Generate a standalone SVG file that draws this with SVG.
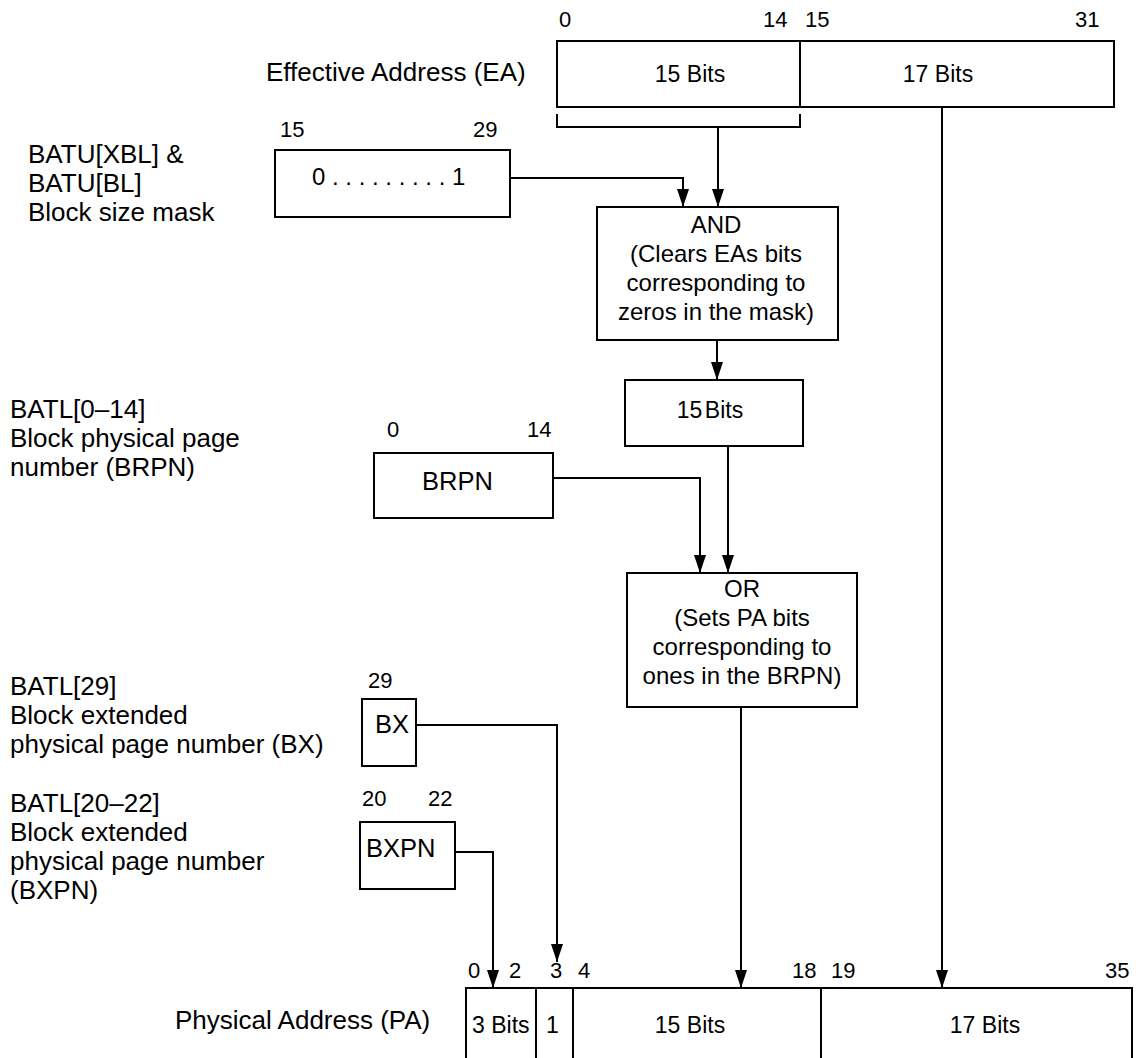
<svg xmlns="http://www.w3.org/2000/svg" width="1138" height="1058" viewBox="0 0 1138 1058">
<style>
text{font-family:"Liberation Sans",Arial,sans-serif;font-size:26px;fill:#000}
.b{font-size:23px}
.n{font-size:22px}
.o{font-size:24px}
.k{font-size:25.5px}
.m{text-anchor:middle}
.box{fill:#fff;stroke:#000;stroke-width:2}
.ln{fill:none;stroke:#000;stroke-width:2}
</style>
<defs>
<marker id="ah" markerUnits="userSpaceOnUse" markerWidth="12" markerHeight="19" refX="6" refY="18" orient="0" viewBox="0 0 12 19">
<path d="M0,0 L12,0 L6,18 z" fill="#000"/>
</marker>
</defs>
<g id="labels">
<text x="266" y="81">Effective Address (EA)</text>
<text x="28" y="163">BATU[XBL] &amp;</text>
<text x="28" y="192">BATU[BL]</text>
<text x="28" y="221">Block size mask</text>
<text x="10" y="418">BATL[0–14]</text>
<text x="10" y="447">Block physical page</text>
<text x="10" y="476">number (BRPN)</text>
<text x="10" y="695">BATL[29]</text>
<text x="10" y="724">Block extended</text>
<text x="10" y="753">physical page number (BX)</text>
<text x="10" y="812">BATL[20–22]</text>
<text x="10" y="841">Block extended</text>
<text x="10" y="870">physical page number</text>
<text x="10" y="899">(BXPN)</text>
<text x="175" y="1029">Physical Address (PA)</text>
</g>
<g id="ea">
<rect class="box" x="557" y="41" width="557" height="66"/>
<line class="ln" x1="800" y1="41" x2="800" y2="108"/>
<text class="n" x="559" y="27">0</text>
<text class="n" x="763" y="27">14</text>
<text class="n" x="805" y="27">15</text>
<text class="n" x="1075" y="27">31</text>
<text class="b m" x="690" y="82">15 Bits</text>
<text class="b m" x="938" y="82">17 Bits</text>
</g>
<g id="mask">
<rect class="box" x="275" y="150" width="235" height="67"/>
<text class="n" x="280" y="137">15</text>
<text class="n" x="473" y="137">29</text>
<text class="o" x="312" y="185">0 . . . . . . . . . 1</text>
</g>
<g id="and">
<rect class="box" x="597" y="207" width="241" height="133"/>
<text class="o m" x="716" y="233">AND</text>
<text class="o m" x="716" y="262">(Clears EAs bits</text>
<text class="o m" x="716" y="291">corresponding to</text>
<text class="o m" x="716" y="320">zeros in the mask)</text>
</g>
<g id="bits15">
<rect class="box" x="625" y="380" width="178" height="66"/>
<text class="b m" x="710" y="418" word-spacing="-4">15 Bits</text>
</g>
<g id="brpn">
<rect class="box" x="374" y="453" width="179" height="65"/>
<text class="n" x="387" y="437">0</text>
<text class="n" x="527" y="437">14</text>
<text class="k" x="422" y="490">BRPN</text>
</g>
<g id="or">
<rect class="box" x="627" y="573" width="230" height="134"/>
<text class="o m" x="742" y="597">OR</text>
<text class="o m" x="742" y="626">(Sets PA bits</text>
<text class="o m" x="742" y="655">corresponding to</text>
<text class="o m" x="742" y="684">ones in the BRPN)</text>
</g>
<g id="bx">
<rect class="box" x="362" y="699" width="54" height="67"/>
<text class="n" x="368" y="688">29</text>
<text class="k" x="375" y="733">BX</text>
</g>
<g id="bxpn">
<rect class="box" x="360" y="822" width="95" height="67"/>
<text class="n" x="362" y="806">20</text>
<text class="n" x="428" y="806">22</text>
<text class="k" x="366" y="857">BXPN</text>
</g>
<g id="pa">
<rect class="box" x="466" y="988" width="666" height="80"/>
<line class="ln" x1="536" y1="988" x2="536" y2="1058"/>
<line class="ln" x1="573" y1="988" x2="573" y2="1058"/>
<line class="ln" x1="821" y1="988" x2="821" y2="1058"/>
<text class="n" x="468" y="978">0</text>
<text class="n" x="509" y="978">2</text>
<text class="n" x="550" y="978">3</text>
<text class="n" x="578" y="978">4</text>
<text class="n" x="792" y="978">18</text>
<text class="n" x="831" y="978">19</text>
<text class="n" x="1105" y="978">35</text>
<text class="b" x="472" y="1033">3 Bits</text>
<text class="b" x="546" y="1033">1</text>
<text class="b m" x="690" y="1033">15 Bits</text>
<text class="b m" x="985" y="1033">17 Bits</text>
</g>
<g id="connectors">
<path class="ln" d="M557,114 V127 H800 V114"/>
<path class="ln" d="M718,127 V207" marker-end="url(#ah)"/>
<path class="ln" d="M942,107 V988" marker-end="url(#ah)"/>
<path class="ln" d="M510,178 H683 V207" marker-end="url(#ah)"/>
<path class="ln" d="M717,340 V380" marker-end="url(#ah)"/>
<path class="ln" d="M728,446 V573" marker-end="url(#ah)"/>
<path class="ln" d="M553,478 H700 V573" marker-end="url(#ah)"/>
<path class="ln" d="M741,707 V988" marker-end="url(#ah)"/>
<path class="ln" d="M416,725 H557 V962" marker-end="url(#ah)"/>
<path class="ln" d="M455,852 H493 V988" marker-end="url(#ah)"/>
</g>
</svg>
